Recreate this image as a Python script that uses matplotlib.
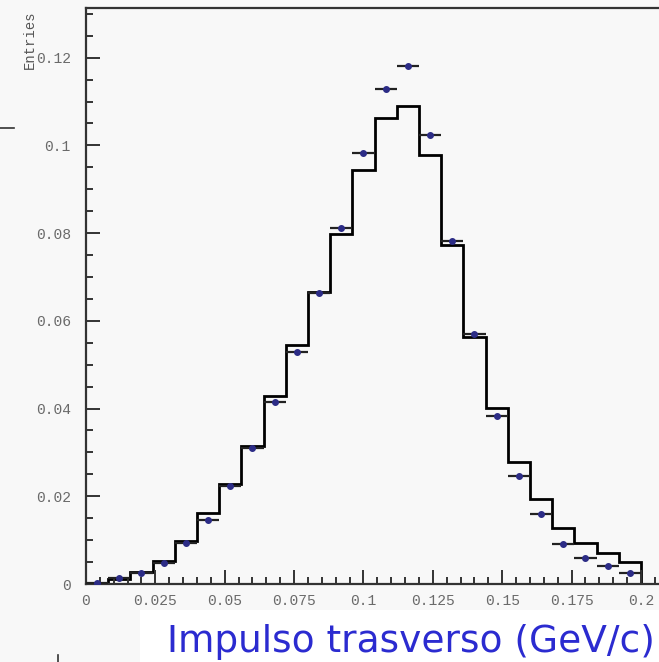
import numpy as np
import matplotlib.pyplot as plt
from matplotlib.lines import Line2D
from matplotlib.ticker import MultipleLocator

# bin edges of the transverse momentum histogram (GeV/c)
edges = np.linspace(0.0, 0.2, 26)
centers = 0.5 * (edges[:-1] + edges[1:])

# simulated distribution (black step line)
mc = [0.0003, 0.0011, 0.0027, 0.0052, 0.0099, 0.0161, 0.0227, 0.0315, 0.0429,
      0.0545, 0.0666, 0.0798, 0.0943, 0.1062, 0.1090, 0.0978, 0.0773, 0.0563,
      0.0402, 0.0278, 0.0193, 0.0128, 0.0094, 0.0070, 0.0050]

# measured entries (points)
data = [0.0002, 0.0013, 0.0025, 0.0048, 0.0093, 0.0145, 0.0223, 0.0311, 0.0414,
        0.0529, 0.0664, 0.0811, 0.0982, 0.1129, 0.1182, 0.1024, 0.0781, 0.0570,
        0.0382, 0.0246, 0.0160, 0.0092, 0.0059, 0.0041, 0.0026]

xticks = [0, 0.025, 0.05, 0.075, 0.1, 0.125, 0.15, 0.175, 0.2]
xtick_labels = ["0", "0.025", "0.05", "0.075", "0.1", "0.125", "0.15", "0.175", "0.2"]
yticks = [0, 0.02, 0.04, 0.06, 0.08, 0.1, 0.12]
ytick_labels = ["0", "0.02", "0.04", "0.06", "0.08", "0.1", "0.12"]

bg = "#f8f8f8"
fig = plt.figure(figsize=(6.59, 6.62), dpi=100, facecolor=bg)
ax = fig.add_axes([0.1305, 0.1178, 1 - 0.1305, 0.870], facecolor=bg)

ax.stairs(mc, edges, color="black", lw=2.0)
ax.errorbar(centers, data, xerr=0.004, fmt="o", ms=4, color="#2c2c86",
            ecolor="#222222", elinewidth=1.6, capsize=0, zorder=3)

ax.set_xlim(0, 0.2065)
ax.set_ylim(0, 0.1313)
ax.set_xticks(xticks)
ax.set_xticklabels(xtick_labels)
ax.set_yticks(yticks)
ax.set_yticklabels(ytick_labels)
ax.xaxis.set_minor_locator(MultipleLocator(0.005))
ax.yaxis.set_minor_locator(MultipleLocator(0.005))

for s in ["left", "bottom", "top"]:
    ax.spines[s].set_color("#333333")
    ax.spines[s].set_linewidth(1.6)
ax.spines["right"].set_visible(False)

ax.tick_params(which="both", direction="in", top=False, right=False,
               color="#333333", width=1.4)
ax.tick_params(which="major", length=10)
ax.tick_params(which="minor", length=5)
ax.tick_params(axis="y", which="major", pad=11)
ax.tick_params(axis="x", which="major", pad=7)
for lab in ax.get_xticklabels() + ax.get_yticklabels():
    lab.set_family("Liberation Mono")
    lab.set_fontsize(10.5)
    lab.set_color("#6a6a6a")

fig.text(30 / 659, 1 - 40 / 662, "Entries", rotation=90, ha="center", va="center",
         family="Liberation Mono", fontsize=10, color="#555555")

# axis title on a white label box
fig.patches.append(plt.Rectangle((140 / 659, 0), 1 - 140 / 659, 52 / 662,
                                 transform=fig.transFigure, facecolor="white",
                                 edgecolor="none", zorder=1))
fig.text(1 - 4 / 659, 10 / 662, "Impulso trasverso (GeV/c)", ha="right", va="baseline",
         family="DejaVu Sans", fontsize=27, color="#2b2bd0", zorder=2)

# small leftover strokes at the margins
fig.add_artist(Line2D([0, 14 / 659], [1 - 128 / 662] * 2, color="#333333", lw=1.2))
fig.add_artist(Line2D([58 / 659] * 2, [0, 7 / 662], color="#333333", lw=1.2))

fig.savefig("out.png", dpi=100, facecolor=bg)
